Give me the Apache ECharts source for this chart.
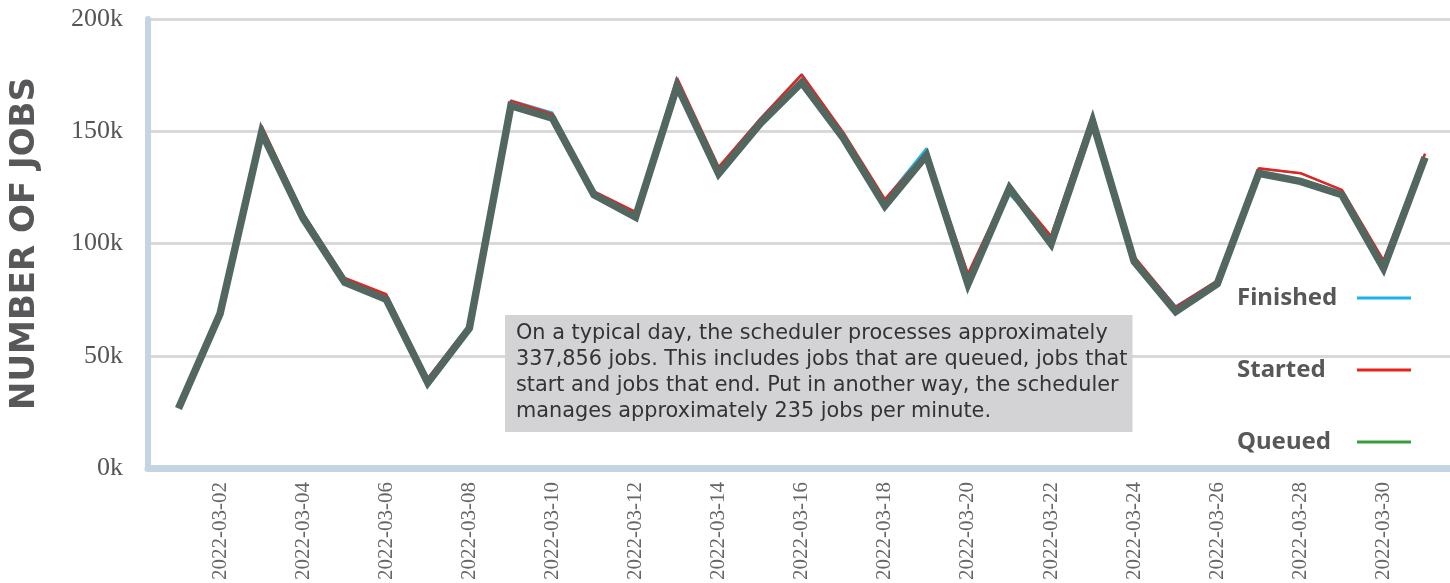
<!DOCTYPE html>
<html>
<head>
<meta charset="utf-8">
<script src="https://cdn.jsdelivr.net/npm/echarts@6/dist/echarts.min.js"></script>
<style>html,body{margin:0;padding:0;background:#fff;}#c{width:1450px;height:583px;}</style>
</head>
<body>
<div id="c"></div>
<script>
const dates = ['2022-03-01','2022-03-02','2022-03-03','2022-03-04','2022-03-05','2022-03-06','2022-03-07','2022-03-08','2022-03-09','2022-03-10',
  '2022-03-11','2022-03-12','2022-03-13','2022-03-14','2022-03-15','2022-03-16','2022-03-17','2022-03-18','2022-03-19','2022-03-20',
  '2022-03-21','2022-03-22','2022-03-23','2022-03-24','2022-03-25','2022-03-26','2022-03-27','2022-03-28','2022-03-29','2022-03-30','2022-03-31'];
const finished = [25500, 67800, 151500, 113000, 83400, 76000, 38200, 62300, 163500, 158000,
  122300, 113000, 173000, 133200, 155300, 175300, 148700, 118800, 142000, 84000,
  121000, 102200, 156700, 93000, 71000, 82300, 132600, 130800, 123000, 91200, 139300];
const started = [26000, 68000, 152000, 112500, 83600, 76300, 38500, 62500, 163200, 157300,
  122500, 113300, 173500, 133500, 155000, 175000, 149000, 119000, 140000, 85500,
  125000, 102500, 157000, 93200, 70500, 82500, 132900, 130700, 123200, 91500, 139500];
const queued = [25000, 67500, 149000, 110400, 81700, 74000, 36500, 61000, 161000, 155400,
  121000, 111000, 170000, 130500, 153000, 171500, 146500, 116000, 138700, 81000,
  124000, 99000, 154000, 91000, 68500, 81000, 130700, 127000, 121000, 88000, 137800];
const seriesNames = ['Finished', 'Started', 'Queued'];
const legendColors = ['#1ab3ea', '#e8231c', '#3a9b3a'];
const lineColors = ['#1ab3ea', '#e8231c', '#52675f'];
const note = 'On a typical day, the scheduler processes approximately\n337,856 jobs. This includes jobs that are queued, jobs that\nstart and jobs that end. Put in another way, the scheduler\nmanages approximately 235 jobs per minute.';

const chart = echarts.init(document.getElementById('c'));
const axisCol = '#c5d4e3';
chart.setOption({
  animation: false,
  title: {
    text: note,
    left: 505, top: 315,
    backgroundColor: '#d3d3d5',
    padding: [6, 5, 7, 11],
    textStyle: { fontFamily: 'DejaVu Sans', fontWeight: 'normal', fontSize: 20.8, lineHeight: 26, color: '#333' }
  },
  legend: {
    orient: 'vertical',
    right: 39, top: 286,
    padding: 0,
    align: 'right',
    icon: 'rect',
    itemWidth: 54, itemHeight: 3,
    itemGap: 48,
    formatter: (name) => '{t|' + name + '}',
    textStyle: {
      fontFamily: 'Noto Sans', fontWeight: 'bold', fontSize: 24, color: '#58585a',
      rich: { t: { width: 115, align: 'left', fontFamily: 'Noto Sans', fontWeight: 'bold', fontSize: 24, color: '#58585a' } }
    },
    data: seriesNames.map((n, i) => ({ name: n, itemStyle: { color: legendColors[i] } }))
  },
  grid: [
    { left: 146, right: 0, top: 19, bottom: 115 },
    { left: 157.7, right: 4.2, top: 19, bottom: 115 }
  ],
  xAxis: [
    { gridIndex: 0, type: 'value', min: 0, max: 1,
      axisLine: { show: true, lineStyle: { color: axisCol, width: 7 } },
      axisTick: { show: false }, axisLabel: { show: false }, splitLine: { show: false } },
    { gridIndex: 1, type: 'category', boundaryGap: true, data: dates,
      axisLine: { show: false }, axisTick: { show: false },
      axisLabel: { interval: (i) => i % 2 === 1, rotate: 90, margin: 18,
        fontFamily: 'Liberation Serif', fontSize: 21, color: '#666' } }
  ],
  yAxis: [
    { gridIndex: 0, type: 'value', min: 0, max: 200000, interval: 50000,
      name: 'NUMBER OF JOBS', nameLocation: 'middle', nameGap: 106,
      nameTextStyle: { fontFamily: 'DejaVu Sans', fontWeight: 'bold', fontSize: 34, color: '#58585a' },
      axisLine: { show: true, lineStyle: { color: axisCol, width: 6 } },
      axisTick: { show: false },
      axisLabel: { margin: 25, fontFamily: 'Liberation Serif', fontSize: 26, color: '#555',
        formatter: (v) => (v / 1000) + 'k' },
      splitLine: { show: true, lineStyle: { color: '#d9d9d9', width: 3 } } },
    { gridIndex: 1, type: 'value', min: 0, max: 200000, show: false, splitLine: { show: false } }
  ],
  series: [
    { name: seriesNames[0], type: 'line', xAxisIndex: 1, yAxisIndex: 1, data: finished, symbol: 'none',
      lineStyle: { color: lineColors[0], width: 2 }, itemStyle: { color: lineColors[0] }, z: 3 },
    { name: seriesNames[1], type: 'line', xAxisIndex: 1, yAxisIndex: 1, data: started, symbol: 'none',
      lineStyle: { color: lineColors[1], width: 2.5 }, itemStyle: { color: lineColors[1] }, z: 4 },
    { name: seriesNames[2], type: 'line', xAxisIndex: 1, yAxisIndex: 1, data: queued, symbol: 'none',
      lineStyle: { color: lineColors[2], width: 7.5, join: 'miter' }, itemStyle: { color: lineColors[2] }, z: 5 }
  ]
});
</script>
</body>
</html>
